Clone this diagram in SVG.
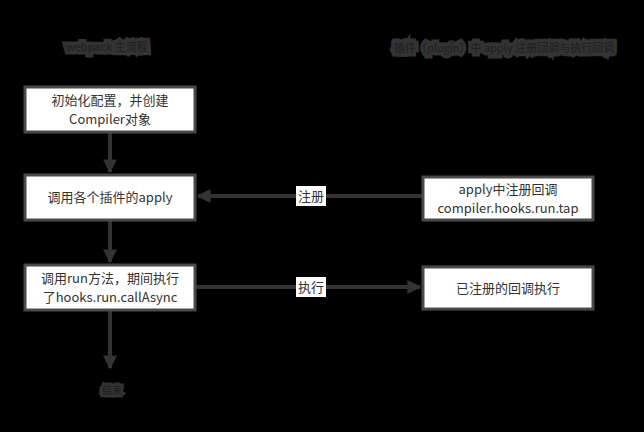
<svg xmlns="http://www.w3.org/2000/svg" width="644" height="432" viewBox="0 0 644 432">
<defs>
<style>
.bg{fill:#000}
.box rect{fill:#fff;stroke:#4a4a4a;stroke-width:3}
.box text,.lbl text{font-family:"Noto Sans CJK SC","Liberation Sans",sans-serif;font-size:13px;fill:#333;text-anchor:middle}
.edge{stroke:#333;stroke-width:4;fill:none}
.hdr{font-family:"Noto Sans CJK SC","Liberation Sans",sans-serif;font-size:11px;fill:#1e1e1e;stroke:#333;stroke-width:7;paint-order:stroke}
.lbl rect{fill:#fff}
</style>
<marker id="ah" viewBox="0 0 10 10" refX="9" refY="5" markerWidth="3.5" markerHeight="3.5" orient="auto">
<path d="M0,0 L10,5 L0,10 Z" fill="#333"/>
</marker>
</defs>
<rect class="bg" x="0" y="0" width="644" height="432"/>
<g id="headers">
<text class="hdr" x="66" y="51">webpack 主流程</text>
<text class="hdr" x="394" y="52">插件（plugin）中 apply 注册回调与执行回调</text>
</g>
<g id="connectors">
<path class="edge" d="M110,133 V172" marker-end="url(#ah)"/>
<path class="edge" d="M110,221 V262" marker-end="url(#ah)"/>
<path class="edge" d="M110,311 V368" marker-end="url(#ah)"/>
<path class="edge" d="M423,196 H198" marker-end="url(#ah)"/>
<path class="edge" d="M196,287 H420" stroke-width="6" marker-end="url(#ah)"/>
<g class="lbl"><rect x="296" y="186" width="30" height="20"/><text x="311" y="201">注册</text></g>
<g class="lbl"><rect x="296" y="277" width="30" height="20"/><text x="311" y="292">执行</text></g>
</g>
<g id="n1" class="box"><rect x="25" y="87" width="170" height="45"/><text x="110" y="105">初始化配置，并创建</text><text x="110" y="124">Compiler对象</text></g>
<g id="n2" class="box"><rect x="25" y="175" width="170" height="45"/><text x="110" y="202">调用各个插件的apply</text></g>
<g id="n3" class="box"><rect x="25" y="265" width="170" height="45"/><text x="110" y="283">调用run方法，期间执行</text><text x="110" y="302">了hooks.run.callAsync</text></g>
<g id="n4" class="box"><rect x="423" y="177" width="170" height="43"/><text x="508" y="194">apply中注册回调</text><text x="508" y="213">compiler.hooks.run.tap</text></g>
<g id="n5" class="box"><rect x="423" y="267" width="170" height="42"/><text x="508" y="293">已注册的回调执行</text></g>
<g id="end"><text x="112" y="394" font-family="Noto Sans CJK SC, sans-serif" font-size="10" fill="#1e1e1e" stroke="#333" stroke-width="5" paint-order="stroke" text-anchor="middle">结束</text></g>
</svg>
